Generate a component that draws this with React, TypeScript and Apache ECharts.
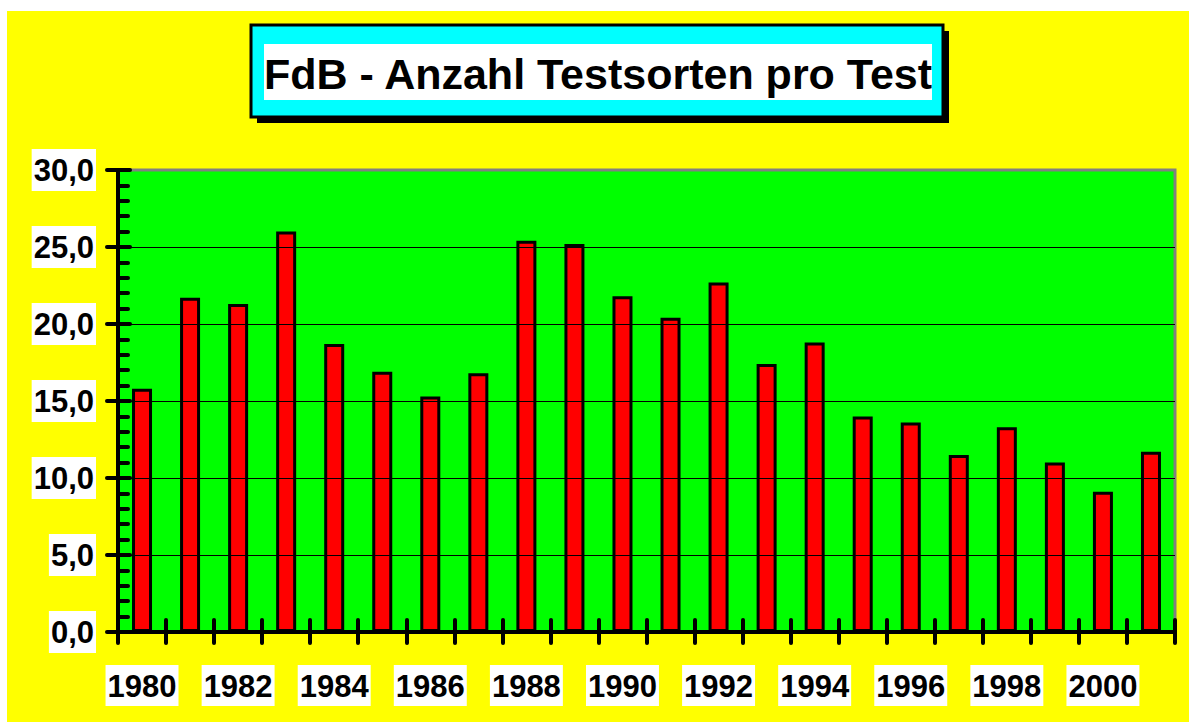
import React, { useEffect, useRef } from "react";
import * as echarts from "echarts";

const years = ["1980","1981","1982","1983","1984","1985","1986","1987","1988","1989","1990","1991","1992","1993","1994","1995","1996","1997","1998","1999","2000","2001"];
const testsorten = [15.8, 21.7, 21.3, 26.0, 18.7, 16.9, 15.3, 16.8, 25.4, 25.2, 21.8, 20.4, 22.7, 17.4, 18.8, 14.0, 13.6, 11.5, 13.3, 11.0, 9.1, 11.7];
const titleText = "FdB - Anzahl Testsorten pro Test";
const yMin = 0;
const yMax = 30;
const yStep = 5;

const FONT = "'Liberation Sans', Arial, sans-serif";

export default function App() {
  const ref = useRef<HTMLDivElement>(null);
  useEffect(() => {
    document.body.style.margin = "0";
    const chart = echarts.init(ref.current!, null, { renderer: "svg" });
    const labelStyle = {
      fontFamily: FONT,
      fontWeight: "bold" as const,
      fontSize: 31,
      color: "#000",
      backgroundColor: "#fff",
    };
    chart.setOption({
      animation: false,
      backgroundColor: "#fff",
      graphic: [
        { type: "rect", z: -10, shape: { x: 7, y: 11, width: 1182, height: 711 }, style: { fill: "#ffff00" }, silent: true },
        { type: "rect", shape: { x: 257, y: 31, width: 692, height: 92 }, style: { fill: "#000" } },
        { type: "rect", shape: { x: 251, y: 25, width: 692, height: 92 }, style: { fill: "#00ffff", stroke: "#000", lineWidth: 3 } },
        { type: "rect", shape: { x: 264, y: 44, width: 668, height: 56 }, style: { fill: "#fff" } },
        {
          type: "text",
          x: 598,
          y: 74,
          style: {
            text: titleText,
            fontFamily: FONT,
            fontWeight: "bold",
            fontSize: 43,
            fill: "#000",
            align: "center",
            verticalAlign: "middle",
          },
        },
      ],
      grid: {
        left: 118,
        right: 14,
        top: 170,
        bottom: 90,
        show: true,
        backgroundColor: "#00ff00",
        borderColor: "#808080",
        borderWidth: 3,
      },
      xAxis: [
        {
          type: "category",
          data: years,
          boundaryGap: true,
          axisLine: { show: true, lineStyle: { color: "#000", width: 4, cap: "round" } },
          axisTick: { show: true, interval: 0, inside: false, length: 11, lineStyle: { color: "#000", width: 4, cap: "round" } },
          axisLabel: { ...labelStyle, interval: 1, margin: 33, padding: [6, 2, 4, 2] },
          splitLine: { show: false },
          z: 5,
        },
        {
          type: "category",
          data: years,
          boundaryGap: true,
          position: "bottom",
          axisLine: { show: false },
          axisTick: { show: true, interval: 0, inside: true, length: 12, lineStyle: { color: "#000", width: 4, cap: "round" } },
          axisLabel: { show: false },
          splitLine: { show: false },
          z: 5,
        },
      ],
      yAxis: [
        {
          type: "value",
          min: yMin,
          max: yMax,
          interval: yStep,
          axisLine: { show: true, lineStyle: { color: "#000", width: 4, cap: "round" } },
          axisTick: { show: true, inside: false, length: 11, lineStyle: { color: "#000", width: 4, cap: "round" } },
          axisLabel: {
            ...labelStyle,
            margin: 22,
            padding: [10, 2, 1, 2],
            formatter: (v: number) => v.toFixed(1).replace(".", ","),
          },
          splitLine: { show: true, showMaxLine: false, showMinLine: false, lineStyle: { color: "#000", width: 1 } },
          z: 5,
        },
        {
          type: "value",
          min: yMin,
          max: yMax,
          interval: yStep,
          position: "left",
          axisLine: { show: false },
          axisTick: { show: true, inside: true, length: 12, lineStyle: { color: "#000", width: 4, cap: "round" } },
          minorTick: { show: true, splitNumber: 5, length: 10, lineStyle: { color: "#000", width: 4, cap: "round" } },
          axisLabel: { show: false },
          splitLine: { show: false },
          z: 5,
        },
      ],
      series: [
        {
          type: "bar",
          data: testsorten,
          xAxisIndex: 0,
          yAxisIndex: 0,
          barWidth: 20,
          itemStyle: { color: "#ff0000", borderColor: "#000", borderWidth: 3 },
          z: 3,
        },
      ],
    });
    return () => chart.dispose();
  }, []);
  return <div ref={ref} style={{ width: 1189, height: 722 }} />;
}
